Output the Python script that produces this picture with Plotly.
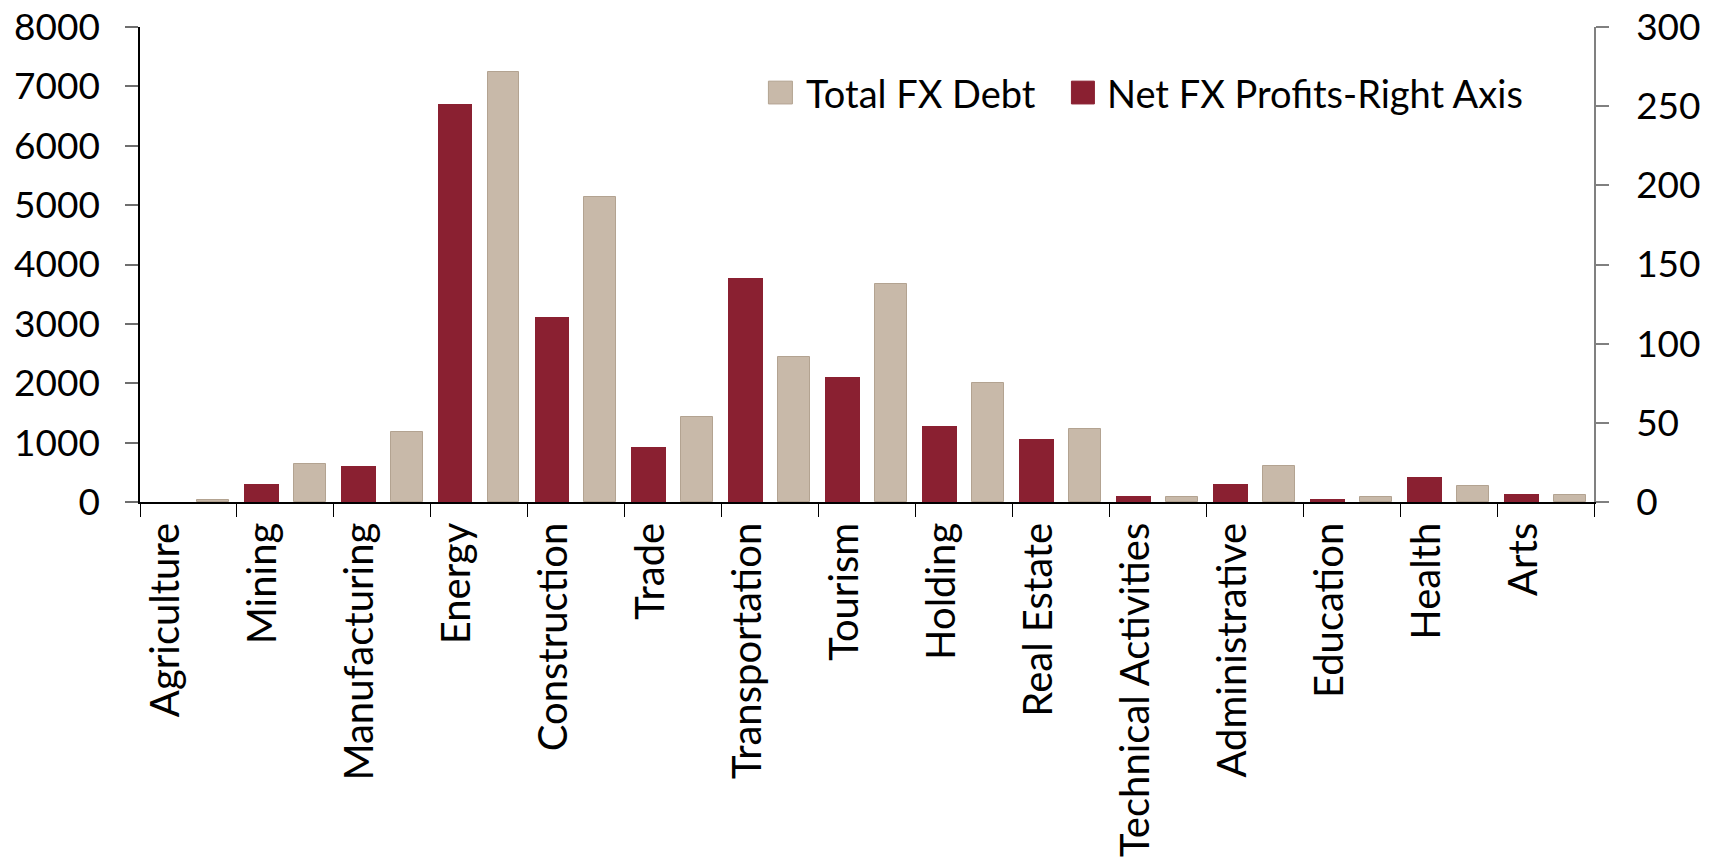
import plotly.graph_objects as go

# ---- data ----
SECTORS = ["Agriculture", "Mining", "Manufacturing", "Energy", "Construction", "Trade",
           "Transportation", "Tourism", "Holding", "Real Estate", "Technical Activities",
           "Administrative", "Education", "Health", "Arts"]

NET_FX_PROFITS = [0, 11.2, 22.7, 251.5, 116.6, 35.0, 141.7, 78.7, 48.2, 39.6,
                  4.0, 11.2, 1.9, 15.6, 4.8]          # right axis
TOTAL_FX_DEBT = [34, 634, 1173, 7247, 5137, 1432, 2448, 3666, 1999, 1224,
                 84, 600, 84, 275, 118]               # left axis

LEFT_TICKS = [0, 1000, 2000, 3000, 4000, 5000, 6000, 7000, 8000]
RIGHT_TICKS = [0, 50, 100, 150, 200, 250, 300]

RED = "#8A2031"
BEIGE = "#C8B9A9"
BEIGE_EDGE = "#B3A391"
FONT = "Lato"
FS = 37

fig = go.Figure()

fig.add_trace(go.Bar(
    x=SECTORS, y=NET_FX_PROFITS, yaxis="y2",
    name="Net FX Profits-Right Axis",
    marker=dict(color=RED, line=dict(width=0)),
    width=0.36, offset=-0.43,
))
fig.add_trace(go.Bar(
    x=SECTORS, y=TOTAL_FX_DEBT, yaxis="y",
    name="Total FX Debt",
    marker=dict(color=BEIGE, line=dict(color=BEIGE_EDGE, width=1)),
    width=0.33, offset=0.085,
))

# legend drawn by hand so the swatches match the big squares of the original
legend_items = [
    ("Total FX Debt", BEIGE, BEIGE_EDGE, 0.4322, 0.4487, 0.4567),
    ("Net FX Profits-Right Axis", RED, RED, 0.6406, 0.6564, 0.6640),
]
for label, fill, edge, x0, x1, xt in legend_items:
    fig.add_shape(type="rect", xref="paper", yref="paper",
                  x0=x0, x1=x1, y0=0.838, y1=0.886,
                  fillcolor=fill, line=dict(color=edge, width=1))
    fig.add_annotation(x=xt, y=0.862, xref="paper", yref="paper",
                       text=label, showarrow=False, xanchor="left", yanchor="middle",
                       font=dict(family=FONT, size=38, color="black"))

fig.update_layout(
    width=1716, height=861,
    margin=dict(l=139.5, r=122.3, t=27, b=359, pad=0, autoexpand=False),
    paper_bgcolor="white", plot_bgcolor="white",
    showlegend=False,
    barmode="group", bargap=0, bargroupgap=0,
    font=dict(family=FONT, size=FS, color="black"),
    xaxis=dict(
        type="category", automargin=False,
        showline=True, linecolor="black", linewidth=1.5,
        ticks="outside", ticklen=13, tickwidth=1.2, tickcolor="black",
        tickson="boundaries",
        tickangle=-90, ticklabelshift=-22, ticklabelstandoff=3,
        showgrid=False, zeroline=False,
        tickfont=dict(family=FONT, size=40, color="black"),
    ),
    yaxis=dict(
        range=[0, 8000], tickvals=LEFT_TICKS, automargin=False,
        showline=True, linecolor="black", linewidth=1.5,
        ticks="outside", ticklen=13, tickwidth=1.5, tickcolor="#6e6e6e",
        showgrid=False, zeroline=False,
        ticklabelstandoff=18,
        tickfont=dict(family=FONT, size=FS, color="black"),
    ),
    yaxis2=dict(
        range=[0, 300], tickvals=RIGHT_TICKS, automargin=False,
        overlaying="y", side="right",
        showline=True, linecolor="#808080", linewidth=1.5,
        ticks="outside", ticklen=13, tickwidth=1.5, tickcolor="#808080",
        showgrid=False, zeroline=False,
        ticklabelstandoff=20,
        tickfont=dict(family=FONT, size=FS, color="black"),
    ),
)

# the page's default body margin would push the fixed-size figure off its place
fig.write_html("out.html", config={"displayModeBar": False},
               post_script="document.body.style.margin='0';")
